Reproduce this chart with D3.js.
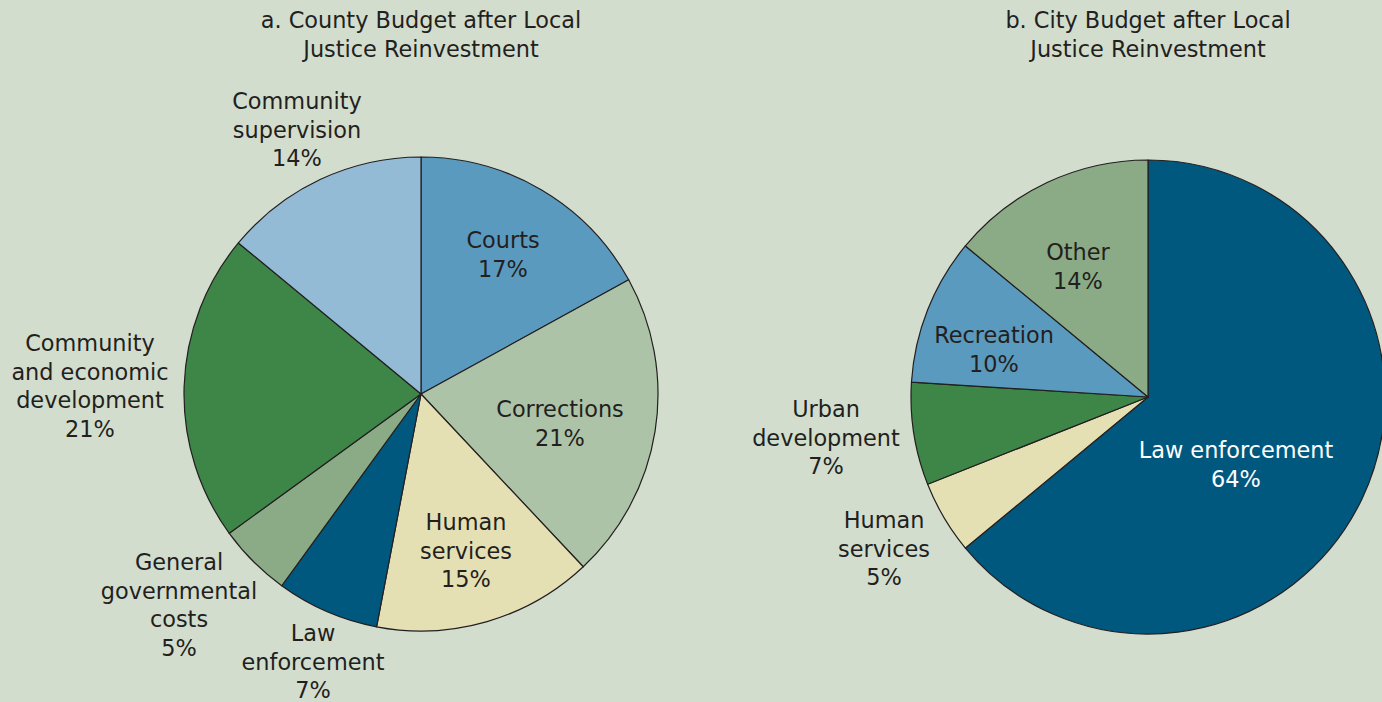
<!DOCTYPE html>
<html>
<head>
<meta charset="utf-8">
<script src="https://cdn.jsdelivr.net/npm/d3@7"></script>
<style>
  body { margin: 0; background: #d2ddcd; }
  svg { display: block; }
  text { font-family: "DejaVu Sans", sans-serif; font-size: 22.4px; fill: #231f20; }
</style>
</head>
<body>
<div id="chart"></div>
<script>
const width = 1382
const height = 702

// county budget (left pie), clockwise from 12 o'clock
const countyCats = ["Courts", "Corrections", "Human services", "Law enforcement",
  "General governmental costs", "Community and economic development", "Community supervision"]
const countyValues = [17, 21, 15, 7, 5, 21, 14]
const countyLabels = [["Courts"], ["Corrections"], ["Human", "services"], ["Law", "enforcement"],
  ["General", "governmental", "costs"], ["Community", "and economic", "development"], ["Community", "supervision"]]

// city budget (right pie)
const cityCats = ["Law enforcement", "Human services", "Urban development", "Recreation", "Other"]
const cityValues = [64, 5, 7, 10, 14]
const cityLabels = [["Law enforcement"], ["Human", "services"], ["Urban", "development"], ["Recreation"], ["Other"]]

const titles = [["a. County Budget after Local", "Justice Reinvestment"],
  ["b. City Budget after Local", "Justice Reinvestment"]]

const countyColor = d3.scaleOrdinal()
  .domain(countyCats)
  .range(["#5b9abf", "#adc3a7", "#e5e0b4", "#00587f", "#8aab85", "#3d8648", "#93bbd5"])
const cityColor = d3.scaleOrdinal()
  .domain(cityCats)
  .range(["#00587f", "#e5e0b4", "#3d8648", "#5b9abf", "#8aab85"])

// label anchors: offset of the first line's centre from the pie centre
const countyLabelPos = [[82, -154], [139, 15], [45, 128], [-108, 239], [-242, 168], [-331, -51], [-124, -293]]
const cityLabelPos = [[88, 53], [-264, 123], [-322, 12], [-154, -62], [-70, -145]]

const svg = d3.select("#chart")
  .append("svg")
  .attr("width", width)
  .attr("height", height)

svg.append("rect")
  .attr("width", width)
  .attr("height", height)
  .attr("fill", "#d2ddcd")

const pie = d3.pie().sort(null).value(d => d.value)
const lineH = 28.7

function drawPie(cx, cy, r, cats, values, labels, color, labelPos, title, textColor) {
  const data = cats.map((c, i) => ({ cat: c, value: values[i], lines: labels[i], pos: labelPos[i] }))
  const arc = d3.arc().innerRadius(0).outerRadius(r)

  const g = svg.append("g").attr("transform", `translate(${cx},${cy})`)

  g.selectAll("path.slice")
    .data(pie(data))
    .join("path")
    .attr("class", "slice")
    .attr("d", arc)
    .attr("fill", d => color(d.data.cat))
    .attr("stroke", "#231f20")
    .attr("stroke-width", 1.2)
    .attr("stroke-linejoin", "round")

  const lab = g.selectAll("text.lab")
    .data(data)
    .join("text")
    .attr("class", "lab")
    .attr("text-anchor", "middle")
    .attr("dominant-baseline", "central")
    .style("fill", d => textColor(d.cat))

  lab.selectAll("tspan")
    .data(d => d.lines.concat([d.value + "%"]).map(t => ({ t, x: d.pos[0], y: d.pos[1] })))
    .join("tspan")
    .attr("x", d => d.x)
    .attr("y", (d, i) => d.y + i * lineH)
    .text(d => d.t)

  svg.append("text")
    .attr("text-anchor", "middle")
    .attr("dominant-baseline", "central")
    .selectAll("tspan")
    .data(title)
    .join("tspan")
    .attr("x", cx)
    .attr("y", (d, i) => 20 + i * 29)
    .text(d => d)
}

drawPie(421, 394, 237, countyCats, countyValues, countyLabels, countyColor, countyLabelPos, titles[0],
  c => "#231f20")
drawPie(1148, 397, 237, cityCats, cityValues, cityLabels, cityColor, cityLabelPos, titles[1],
  c => c === "Law enforcement" ? "#ffffff" : "#231f20")
</script>
</body>
</html>
